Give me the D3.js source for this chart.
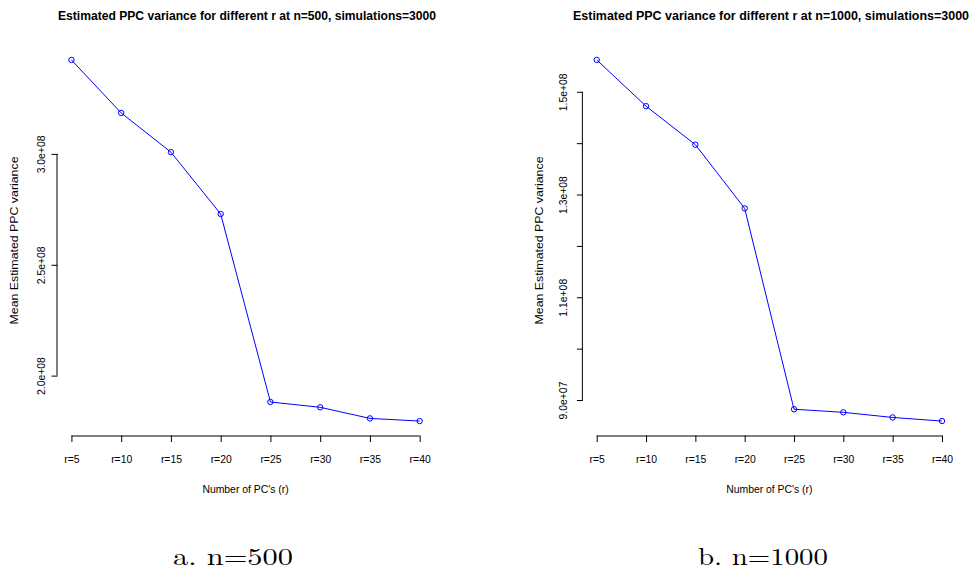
<!DOCTYPE html>
<html>
<head>
<meta charset="utf-8">
<script src="https://cdn.jsdelivr.net/npm/d3@7"></script>
<style>
  html, body { margin: 0; padding: 0; background: #fff; }
  svg { display: block; }
</style>
</head>
<body>
<svg id="chart" width="973" height="574"></svg>
<script>
// ---- data ----
const categories = ["r=5", "r=10", "r=15", "r=20", "r=25", "r=30", "r=35", "r=40"];
const varianceN500 = [3.424e8, 3.185e8, 3.008e8, 2.729e8, 1.881e8, 1.857e8, 1.807e8, 1.795e8];
const varianceN1000 = [1.562e8, 1.472e8, 1.397e8, 1.273e8, 0.882e8, 0.876e8, 0.866e8, 0.859e8];
const yTicksN500 = [2.0e8, 2.5e8, 3.0e8];
const yTickLabelsN500 = ["2.0e+08", "2.5e+08", "3.0e+08"];
const yTicksN1000 = [0.9e8, 1.0e8, 1.1e8, 1.2e8, 1.3e8, 1.4e8, 1.5e8];
const yTickLabelsN1000 = ["9.0e+07", "", "1.1e+08", "", "1.3e+08", "", "1.5e+08"];
const titles = [
  "Estimated PPC variance for different r at n=500, simulations=3000",
  "Estimated PPC variance for different r at n=1000, simulations=3000"
];
const captions = ["a. n=500", "b. n=1000"];
const xLabel = "Number of PC's (r)";
const yLabel = "Mean Estimated PPC variance";

const svg = d3.select("#chart");
const sans = "'Liberation Sans', Arial, Helvetica, sans-serif";

const panels = [
  { values: varianceN500, ticks: yTicksN500, tickLabels: yTickLabelsN500, title: titles[0], caption: captions[0],
    left: 57.5, right: 433.6, titleX: 247, titleW: 378, tickLabX: 45, yLabX: 18.3, capX: 233, capW: 120 },
  { values: varianceN1000, ticks: yTicksN1000, tickLabels: yTickLabelsN1000, title: titles[1], caption: captions[1],
    left: 582.9, right: 955.8, titleX: 771, titleW: 396, tickLabX: 567, yLabX: 542.7, capX: 763, capW: 130 }
];
const plotTop = 45.5, plotBottom = 435.5;

panels.forEach(p => {
  const g = svg.append("g");
  const n = categories.length;
  // R-style 4% expansion of ranges
  const x = d3.scaleLinear().domain([1 - 0.04 * (n - 1), n + 0.04 * (n - 1)]).range([p.left, p.right]);
  const [mn, mx] = d3.extent(p.values);
  const pad = 0.04 * (mx - mn);
  const y = d3.scaleLinear().domain([mn - pad, mx + pad]).range([plotBottom, plotTop]);

  // title
  g.append("text")
    .attr("x", p.titleX).attr("y", 20)
    .attr("text-anchor", "middle")
    .attr("font-family", sans).attr("font-weight", "bold").attr("font-size", 12)
    .attr("textLength", p.titleW).attr("lengthAdjust", "spacingAndGlyphs")
    .text(p.title);

  // x axis
  const idx = d3.range(1, n + 1);
  const xAxis = d3.axisBottom(x).tickValues(idx).tickSize(6.5).tickSizeOuter(0)
    .tickFormat((d, i) => categories[i]);
  const gx = g.append("g").attr("transform", `translate(0,${plotBottom})`).call(xAxis);
  gx.select(".domain").remove();
  gx.append("line").attr("x1", x(1)).attr("x2", x(n)).attr("y1", 0.5).attr("y2", 0.5)
    .attr("stroke", "#000");
  gx.selectAll(".tick line").attr("stroke", "#000");
  gx.selectAll(".tick text").attr("y", 27.5).attr("dy", null)
    .attr("font-family", sans).attr("font-size", 10.4).attr("fill", "#000");

  // x label
  g.append("text")
    .attr("x", (p.left + p.right) / 2).attr("y", 493)
    .attr("text-anchor", "middle")
    .attr("font-family", sans).attr("font-size", 10.4)
    .text(xLabel);

  // y axis
  const yAxis = d3.axisLeft(y).tickValues(p.ticks).tickSize(6).tickSizeOuter(0)
    .tickFormat((d, i) => p.tickLabels[i]);
  const gy = g.append("g").attr("transform", `translate(${p.left},0)`).call(yAxis);
  gy.select(".domain").remove();
  gy.append("line").attr("x1", -0.5).attr("x2", -0.5)
    .attr("y1", y(p.ticks[0])).attr("y2", y(p.ticks[p.ticks.length - 1]))
    .attr("stroke", "#000");
  gy.selectAll(".tick line").attr("stroke", "#000");
  gy.selectAll(".tick text")
    .attr("x", null).attr("dy", null)
    .attr("transform", `translate(${p.tickLabX - p.left},0) rotate(-90)`)
    .attr("text-anchor", "middle")
    .attr("font-family", sans).attr("font-size", 10.4).attr("fill", "#000");

  // y label
  g.append("text")
    .attr("transform", `translate(${p.yLabX},${(plotTop + plotBottom) / 2}) rotate(-90)`)
    .attr("text-anchor", "middle")
    .attr("font-family", sans).attr("font-size", 11.2)
    .attr("textLength", 168).attr("lengthAdjust", "spacingAndGlyphs")
    .text(yLabel);

  // line + points
  const line = d3.line().x((d, i) => x(i + 1)).y(d => y(d));
  g.append("path").datum(p.values).attr("d", line)
    .attr("fill", "none").attr("stroke", "#0000ff").attr("stroke-width", 1);
  g.selectAll("circle.pt").data(p.values).enter().append("circle")
    .attr("class", "pt")
    .attr("cx", (d, i) => x(i + 1)).attr("cy", d => y(d)).attr("r", 2.7)
    .attr("fill", "none").attr("stroke", "#0000ff").attr("stroke-width", 1);

  // caption
  svg.append("text")
    .attr("x", p.capX).attr("y", 565)
    .attr("text-anchor", "middle")
    .attr("font-family", "'Latin Modern Roman', 'CMU Serif', 'DejaVu Serif', 'Liberation Serif', serif")
    .attr("font-size", 24)
    .attr("textLength", p.capW).attr("lengthAdjust", "spacingAndGlyphs")
    .text(p.caption);
});
</script>
</body>
</html>
